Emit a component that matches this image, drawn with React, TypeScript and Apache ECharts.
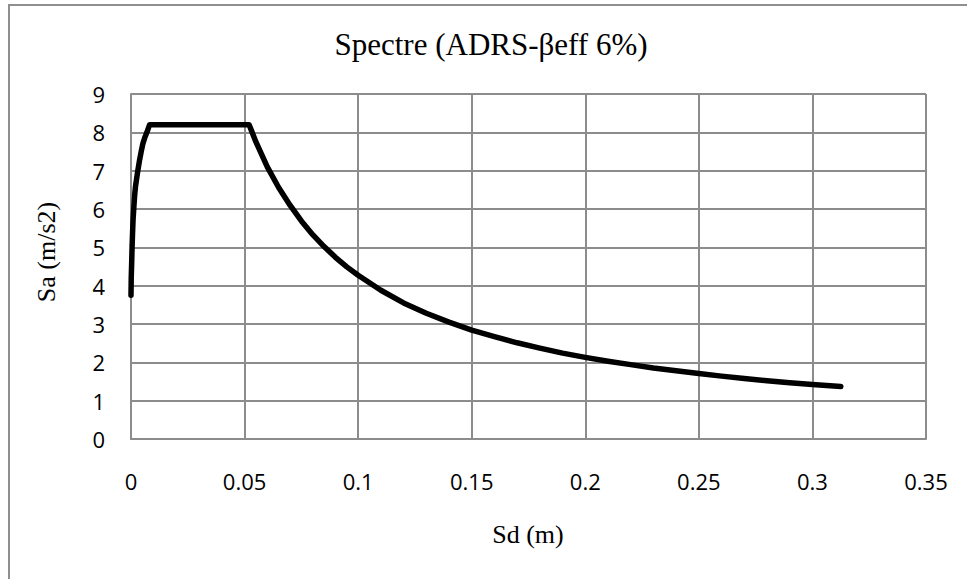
import React, { useEffect, useRef } from "react";
import * as echarts from "echarts";

const sdValues = [
  0, 0.0001, 0.0003, 0.0005, 0.0007, 0.0009, 0.0012, 0.0016, 0.002, 0.0025, 0.003,
  0.0037, 0.0045, 0.0052, 0.006, 0.007, 0.0082,
  0.052, 0.055, 0.06, 0.065, 0.07, 0.075, 0.08, 0.085, 0.09, 0.095, 0.1,
  0.11, 0.12, 0.13, 0.14, 0.15, 0.16, 0.17, 0.18, 0.19, 0.2,
  0.21, 0.22, 0.23, 0.24, 0.25, 0.26, 0.27, 0.28, 0.29, 0.3, 0.3125,
];
const saValues = [
  3.75, 4.2, 4.6, 5.05, 5.4, 5.7, 6.0, 6.35, 6.6, 6.8, 7.0,
  7.25, 7.5, 7.7, 7.85, 8.0, 8.2,
  8.2, 7.75, 7.1, 6.56, 6.1, 5.69, 5.33, 5.02, 4.74, 4.49, 4.27,
  3.88, 3.55, 3.28, 3.05, 2.84, 2.67, 2.51, 2.37, 2.24, 2.13,
  2.03, 1.94, 1.85, 1.78, 1.71, 1.64, 1.58, 1.52, 1.47, 1.42, 1.37,
];
const chartTitle = "Spectre (ADRS-βeff 6%)";
const xTitle = "Sd (m)";
const yTitle = "Sa (m/s2)";

export default function App() {
  const ref = useRef<HTMLDivElement>(null);
  useEffect(() => {
    if (!ref.current) return;
    const chart = echarts.init(ref.current, null, { renderer: "svg" });
    const gridColor = "#8c8c8c";
    const serif = "'Liberation Serif', 'Times New Roman', serif";
    const sans = "'Open Sans', 'Noto Sans', sans-serif";
    chart.setOption({
      animation: false,
      backgroundColor: "#ffffff",
      grid: { left: 131, top: 94, right: 41, bottom: 140, containLabel: false },
      xAxis: {
        type: "value",
        min: 0,
        max: 0.35,
        interval: 0.05,
        axisLine: { show: true, lineStyle: { color: gridColor, width: 2 } },
        axisTick: { show: false },
        splitLine: { show: true, lineStyle: { color: gridColor, width: 2 } },
        axisLabel: {
          color: "#000",
          fontFamily: sans,
          fontSize: 22,
          margin: 31,
          formatter: (v: number) => String(+v.toFixed(2)),
        },
      },
      yAxis: {
        type: "value",
        min: 0,
        max: 9,
        interval: 1,
        axisLine: { show: true, lineStyle: { color: gridColor, width: 2 } },
        axisTick: { show: false },
        splitLine: { show: true, lineStyle: { color: gridColor, width: 2 } },
        axisLabel: { color: "#000", fontFamily: sans, fontSize: 22, margin: 26 },
      },
      series: [
        {
          type: "line",
          data: sdValues.map((x, i) => [x, saValues[i]]),
          showSymbol: false,
          smooth: false,
          lineStyle: { color: "#000", width: 5.5, cap: "round", join: "round" },
        },
      ],
      graphic: [
        {
          type: "rect",
          shape: { x: 9, y: 5, width: 1000, height: 700 },
          style: { fill: "none", stroke: "#8f8f8f", lineWidth: 2 },
          z: 100,
        },
        {
          type: "text",
          x: 491,
          y: 44,
          style: {
            text: chartTitle,
            font: `31px ${serif}`,
            fill: "#000",
            textAlign: "center",
            textVerticalAlign: "middle",
          },
        },
        {
          type: "text",
          x: 528,
          y: 534,
          style: {
            text: xTitle,
            font: `26px ${serif}`,
            fill: "#000",
            textAlign: "center",
            textVerticalAlign: "middle",
          },
        },
        {
          type: "text",
          x: 46,
          y: 252,
          rotation: Math.PI / 2,
          style: {
            text: yTitle,
            font: `26px ${serif}`,
            fill: "#000",
            textAlign: "center",
            textVerticalAlign: "middle",
          },
        },
      ],
    });
    return () => chart.dispose();
  }, []);
  return (
    <div
      ref={ref}
      style={{ position: "fixed", left: 0, top: 0, width: 967, height: 579, background: "#fff" }}
    />
  );
}
